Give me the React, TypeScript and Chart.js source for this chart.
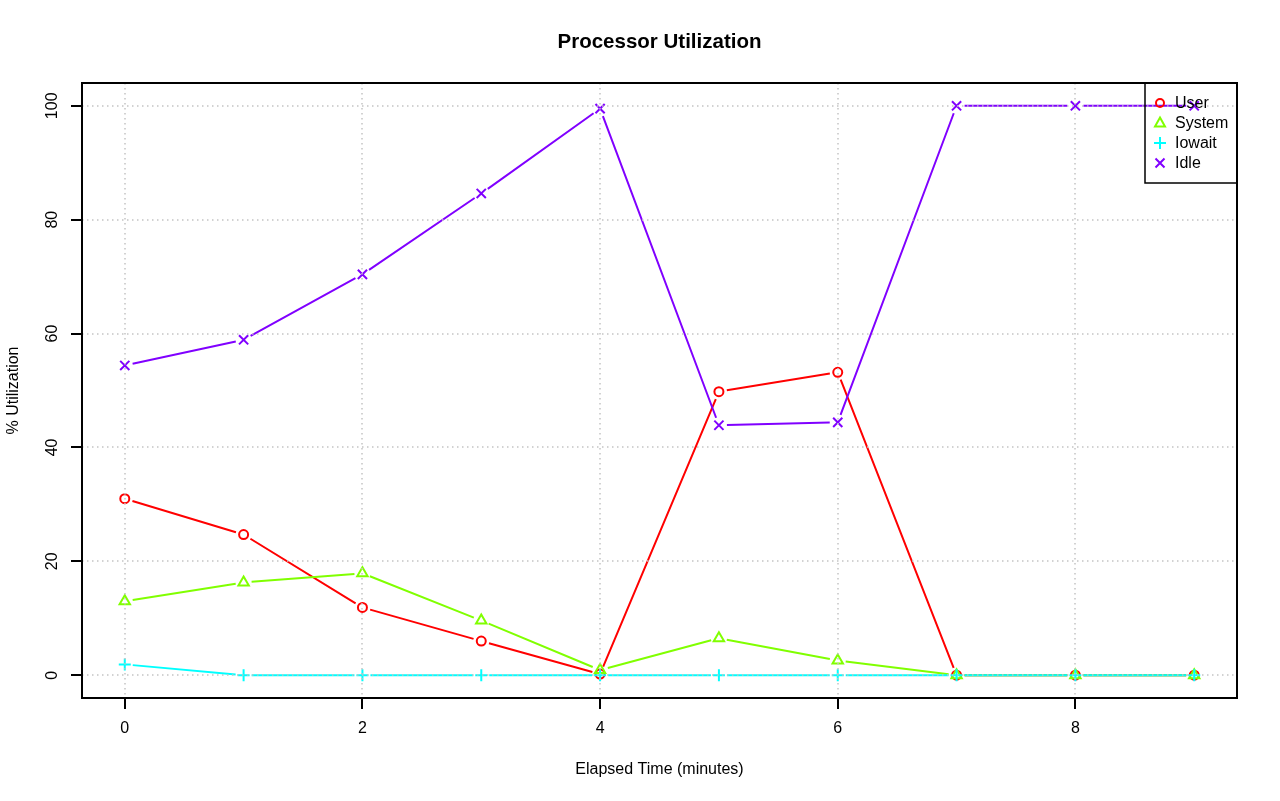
import React, { useEffect, useRef } from "react";
import { Chart, registerables } from "chart.js";
Chart.register(...registerables);

const times = [0, 1, 2, 3, 4, 5, 6, 7, 8, 9];
const userVals = [31.0, 24.7, 11.9, 6.0, 0.2, 49.8, 53.2, 0, 0, 0];
const systemVals = [13.0, 16.3, 17.9, 9.6, 0.9, 6.5, 2.6, 0, 0, 0];
const iowaitVals = [1.9, 0, 0, 0, 0, 0, 0, 0, 0, 0];
const idleVals = [54.4, 58.9, 70.4, 84.6, 99.5, 43.9, 44.4, 100, 100, 100];
const seriesNames = ["User", "System", "Iowait", "Idle"];
const seriesColors = ["#FF0000", "#80FF00", "#00FFFF", "#8000FF"];
const xTicks = [0, 2, 4, 6, 8];
const yTicks = [0, 20, 40, 60, 80, 100];
const titleText = "Processor Utilization";
const xTitle = "Elapsed Time (minutes)";
const yTitle = "% Utilization";

const FONT = '"Liberation Sans", Arial, Helvetica, sans-serif';
const GAP = 8;

function drawSymbol(ctx: CanvasRenderingContext2D, kind: number, cx: number, cy: number, color: string) {
  ctx.save();
  ctx.strokeStyle = color;
  ctx.lineWidth = 2;
  ctx.beginPath();
  if (kind === 0) {
    ctx.arc(cx, cy, 4, 0, Math.PI * 2);
  } else if (kind === 1) {
    ctx.moveTo(cx, cy - 5.5);
    ctx.lineTo(cx + 5, cy + 3.5);
    ctx.lineTo(cx - 5, cy + 3.5);
    ctx.closePath();
  } else if (kind === 2) {
    ctx.moveTo(cx - 6, cy);
    ctx.lineTo(cx + 6, cy);
    ctx.moveTo(cx, cy - 6);
    ctx.lineTo(cx, cy + 6);
  } else {
    ctx.moveTo(cx - 4.5, cy - 4.5);
    ctx.lineTo(cx + 4.5, cy + 4.5);
    ctx.moveTo(cx + 4.5, cy - 4.5);
    ctx.lineTo(cx - 4.5, cy + 4.5);
  }
  ctx.stroke();
  ctx.restore();
}

// R type="b": line segments between points with gaps around each point
const gappedLines = {
  id: "gappedLines",
  beforeDatasetsDraw(chart: any) {
    const { ctx } = chart;
    ctx.save();
    ctx.lineWidth = 2;
    ctx.lineCap = "butt";
    for (let i = chart.data.datasets.length - 1; i >= 0; i--) {
      // draw in R order: User first, Idle last
    }
    [0, 1, 2, 3].forEach((i) => {
      const meta = chart.getDatasetMeta(i);
      const pts = meta.data;
      ctx.strokeStyle = seriesColors[i];
      ctx.beginPath();
      for (let k = 0; k < pts.length - 1; k++) {
        const p = pts[k];
        const q = pts[k + 1];
        const dx = q.x - p.x;
        const dy = q.y - p.y;
        const len = Math.hypot(dx, dy);
        if (len <= 2 * GAP) continue;
        const ux = dx / len;
        const uy = dy / len;
        ctx.moveTo(p.x + ux * GAP, p.y + uy * GAP);
        ctx.lineTo(q.x - ux * GAP, q.y - uy * GAP);
      }
      ctx.stroke();
    });
    ctx.restore();
  },
};

const decor = {
  id: "decor",
  afterDatasetsDraw(chart: any) {
    const { ctx, chartArea: a, scales } = chart;
    const x = scales.x;
    const y = scales.y;
    ctx.save();
    // grid (dotted, light gray) on top of series like R's grid()
    ctx.strokeStyle = "#C4C4C4";
    ctx.lineWidth = 1.5;
    ctx.setLineDash([1.5, 3.5]);
    xTicks.forEach((v) => {
      const px = Math.round(x.getPixelForValue(v));
      ctx.beginPath();
      ctx.moveTo(px, a.top);
      ctx.lineTo(px, a.bottom);
      ctx.stroke();
    });
    yTicks.forEach((v) => {
      const py = Math.round(y.getPixelForValue(v));
      ctx.beginPath();
      ctx.moveTo(a.left, py);
      ctx.lineTo(a.right, py);
      ctx.stroke();
    });
    ctx.setLineDash([]);

    // box
    ctx.strokeStyle = "#000";
    ctx.lineWidth = 2;
    ctx.strokeRect(a.left, a.top, a.right - a.left, a.bottom - a.top);

    // ticks
    ctx.beginPath();
    xTicks.forEach((v) => {
      const px = Math.round(x.getPixelForValue(v));
      ctx.moveTo(px, a.bottom);
      ctx.lineTo(px, a.bottom + 11);
    });
    yTicks.forEach((v) => {
      const py = Math.round(y.getPixelForValue(v));
      ctx.moveTo(a.left, py);
      ctx.lineTo(a.left - 11, py);
    });
    ctx.stroke();

    // tick labels
    ctx.fillStyle = "#000";
    ctx.font = `16px ${FONT}`;
    ctx.textAlign = "center";
    ctx.textBaseline = "middle";
    xTicks.forEach((v) => {
      ctx.fillText(String(v), x.getPixelForValue(v), 729);
    });
    yTicks.forEach((v) => {
      ctx.save();
      ctx.translate(53, y.getPixelForValue(v));
      ctx.rotate(-Math.PI / 2);
      ctx.fillText(String(v), 0, 0);
      ctx.restore();
    });

    // axis titles
    ctx.fillText(xTitle, (a.left + a.right) / 2, 770);
    ctx.save();
    ctx.translate(14, (a.top + a.bottom) / 2);
    ctx.rotate(-Math.PI / 2);
    ctx.fillText(yTitle, 0, 0);
    ctx.restore();

    // main title
    ctx.font = `bold 20.5px ${FONT}`;
    ctx.fillText(titleText, (a.left + a.right) / 2, 42);

    // legend
    const lx = 1145;
    const lw = a.right - lx;
    ctx.lineWidth = 1.5;
    ctx.strokeRect(lx, a.top, lw, 100);
    ctx.font = `16px ${FONT}`;
    ctx.textAlign = "left";
    seriesNames.forEach((n, i) => {
      const cy = 103 + i * 20;
      drawSymbol(ctx, i, 1160, cy, seriesColors[i]);
      ctx.fillStyle = "#000";
      ctx.fillText(n, 1175, cy + 1);
    });
    ctx.restore();
  },
};

export default function App() {
  const ref = useRef<HTMLCanvasElement>(null);
  useEffect(() => {
    if (!ref.current) return;
    const allVals = [userVals, systemVals, iowaitVals, idleVals];
    const styles = ["circle", "triangle", "cross", "crossRot"];
    const radii = [4.5, 6, 6, 6.5];
    const chart = new Chart(ref.current, {
      type: "line",
      data: {
        datasets: allVals.map((vals, i) => ({
          label: seriesNames[i],
          data: times.map((t, j) => ({ x: t, y: vals[j] })),
          borderColor: seriesColors[i],
          backgroundColor: "transparent",
          borderWidth: 2,
          showLine: false,
          pointStyle: styles[i] as any,
          pointRadius: radii[i],
          pointBorderWidth: 2,
          pointBorderColor: seriesColors[i],
          pointBackgroundColor: "transparent",
          fill: false,
          tension: 0,
          order: 3 - i,
        })),
      },
      options: {
        animation: false,
        responsive: false,
        devicePixelRatio: 1,
        layout: { padding: { left: 82, top: 83, right: 43, bottom: 103 } },
        plugins: { legend: { display: false }, title: { display: false }, tooltip: { enabled: false } },
        events: [],
        scales: {
          x: { type: "linear", min: -0.36, max: 9.36, display: false },
          y: { type: "linear", min: -4, max: 104, display: false },
        },
      },
      plugins: [gappedLines, decor],
    });
    return () => chart.destroy();
  }, []);
  return (
    <div style={{ position: "absolute", left: 0, top: 0, width: 1280, height: 801, background: "#fff" }}>
      <canvas ref={ref} width={1280} height={801} style={{ display: "block" }} />
    </div>
  );
}
